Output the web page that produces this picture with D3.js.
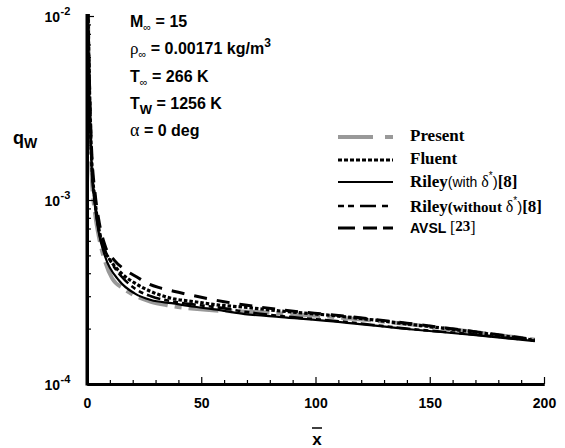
<!DOCTYPE html>
<html><head><meta charset="utf-8">
<script src="https://cdn.jsdelivr.net/npm/d3@7"></script>
<style>body{margin:0;background:#fff}svg{display:block}</style>
</head><body>
<svg id="c" width="565" height="448"></svg>
<script>
// ---- data ----
const presentX = [0.4, 1, 2, 3.5, 5, 6.4, 8, 11, 16, 21, 28, 35, 47, 58, 68, 85, 110, 140, 169, 196];
const presentY = [1.1e-2, 3.5e-3, 1.4e-3, 8.5e-4, 6.5e-4, 5.4e-4, 4.6e-4, 3.75e-4, 3.3e-4, 3.02e-4, 2.8e-4, 2.68e-4, 2.56e-4, 2.5e-4, 2.48e-4, 2.42e-4, 2.3e-4, 2.12e-4, 1.92e-4, 1.74e-4];
const fluentX = [0.4, 1, 2, 3.5, 5, 7, 10, 15, 21, 28, 37, 47, 57, 68, 85, 110, 140, 169, 196];
const fluentY = [1.1e-2, 4.5e-3, 1.7e-3, 1.0e-3, 7.2e-4, 5.6e-4, 4.75e-4, 4.0e-4, 3.53e-4, 3.18e-4, 2.92e-4, 2.8e-4, 2.69e-4, 2.62e-4, 2.49e-4, 2.34e-4, 2.12e-4, 1.92e-4, 1.73e-4];
const rileyWithX = [0.4, 1, 2, 3.5, 5, 8, 14, 21, 28, 37, 47, 58, 69, 85, 111, 140, 169, 196];
const rileyWithY = [1.1e-2, 4.0e-3, 1.55e-3, 9.2e-4, 6.8e-4, 4.9e-4, 3.65e-4, 3.1e-4, 2.86e-4, 2.75e-4, 2.63e-4, 2.52e-4, 2.4e-4, 2.31e-4, 2.17e-4, 1.99e-4, 1.85e-4, 1.71e-4];
const rileyWithoutX = [0.4, 1, 2, 3.5, 5, 8, 11, 15, 21, 28, 37, 47, 58, 69, 85, 111, 140, 169, 196];
const rileyWithoutY = [1.1e-2, 4.3e-3, 1.65e-3, 9.8e-4, 7.2e-4, 5.3e-4, 4.5e-4, 3.85e-4, 3.3e-4, 3.0e-4, 2.82e-4, 2.7e-4, 2.6e-4, 2.47e-4, 2.34e-4, 2.19e-4, 2.0e-4, 1.86e-4, 1.72e-4];
const avslX = [0.4, 1, 2, 3.5, 5, 8, 12, 17, 22, 27, 32, 40, 50, 60, 70, 85, 110, 140, 169, 196];
const avslY = [1.1e-2, 4.8e-3, 1.9e-3, 1.1e-3, 8.0e-4, 5.6e-4, 4.7e-4, 4.15e-4, 3.8e-4, 3.5e-4, 3.33e-4, 3.15e-4, 2.96e-4, 2.8e-4, 2.68e-4, 2.53e-4, 2.36e-4, 2.14e-4, 1.93e-4, 1.74e-4];

const xMajorTicks = [0, 50, 100, 150, 200];
const xMinorTicks = [10,20,30,40,60,70,80,90,110,120,130,140,160,170,180,190];
const yMajorTicks = [1e-4, 1e-3, 1e-2];
const yMajorLabels = ["-4", "-3", "-2"];
const yMinorTicks = [2e-4,3e-4,4e-4,5e-4,6e-4,7e-4,8e-4,9e-4,2e-3,3e-3,4e-3,5e-3,6e-3,7e-3,8e-3,9e-3];

// ---- chart ----
const svg = d3.select("#c");
const x = d3.scaleLinear().domain([0, 200]).range([87, 544]);
const y = d3.scaleLog().domain([1e-4, 1e-2]).range([384, 16]);

const defs = svg.append("defs");
defs.append("clipPath").attr("id","clip").append("rect")
  .attr("x", 87).attr("y", 14).attr("width", 460).attr("height", 370);

const series = [
  {name:"Present", xs:presentX, ys:presentY, color:"#999", w:4, dash:"30,7,7,7"},
  {name:"Fluent", xs:fluentX, ys:fluentY, color:"#000", w:3.2, dash:"3.5,2"},
  {name:"RileyWith", xs:rileyWithX, ys:rileyWithY, color:"#000", w:2.2, dash:null},
  {name:"RileyWithout", xs:rileyWithoutX, ys:rileyWithoutY, color:"#000", w:2.6, dash:"5,4,5,4,14,4"},
  {name:"AVSL", xs:avslX, ys:avslY, color:"#000", w:3, dash:"13,10"}
];

const line = d3.line().x(d => x(d[0])).y(d => y(d[1])).curve(d3.curveMonotoneX);
const g = svg.append("g").attr("clip-path","url(#clip)");
series.forEach(s => {
  const pts = s.xs.map((v,i) => [v, s.ys[i]]);
  g.append("path").datum(pts).attr("d", line)
    .attr("fill","none").attr("stroke", s.color).attr("stroke-width", s.w)
    .attr("stroke-dasharray", s.dash);
});

// axes
const xAxisMinor = d3.axisBottom(x).tickValues(xMinorTicks).tickSize(-4).tickSizeOuter(0).tickFormat("");
const xAxis = d3.axisBottom(x).tickValues(xMajorTicks).tickSize(-7).tickSizeOuter(0).tickPadding(14).tickFormat(d3.format("d"));
const yAxisMinor = d3.axisLeft(y).tickValues(yMinorTicks).tickSize(-4).tickSizeOuter(0).tickFormat("");
const yAxis = d3.axisLeft(y).tickValues(yMajorTicks).tickSize(-7).tickSizeOuter(0).tickFormat("");

function styleAxis(sel){
  sel.select(".domain").attr("stroke","#000").attr("stroke-width",3);
  sel.selectAll(".tick line").attr("stroke","#000").attr("stroke-width",1.2);
  sel.selectAll("text").attr("fill","#000").style("font-family","Liberation Sans, Arial, sans-serif")
     .style("font-size","14px").style("font-weight","bold");
}
svg.append("g").attr("transform","translate(0,384)").call(xAxisMinor).call(styleAxis);
svg.append("g").attr("transform","translate(0,384)").call(xAxis).call(styleAxis);
svg.append("g").attr("transform","translate(87,0)").call(yAxisMinor).call(styleAxis);
svg.append("g").attr("transform","translate(87,0)").call(yAxis).call(styleAxis);
svg.append("line").attr("x1",87).attr("x2",87).attr("y1",14).attr("y2",385.5).attr("stroke","#000").attr("stroke-width",3);

const sans = "Liberation Sans, Arial, sans-serif";
const serif = "Liberation Serif, Times New Roman, serif";

// y tick labels 10^n
yMajorTicks.forEach((v,i) => {
  svg.append("text").attr("x", 60).attr("y", y(v)+6).attr("text-anchor","end")
    .style("font-family",sans).style("font-weight","bold").style("font-size","14px").text("10");
  svg.append("text").attr("x", 60.5).attr("y", y(v)-1).style("font-family",sans)
    .style("font-weight","bold").style("font-size","11px").text(yMajorLabels[i]);
});

// axis titles
svg.append("text").attr("x", 317).attr("y", 445).attr("text-anchor","middle")
  .style("font-family",sans).style("font-weight","bold").style("font-size","17px").text("x");
svg.append("line").attr("x1",312).attr("x2",322).attr("y1",428).attr("y2",428).attr("stroke","#000").attr("stroke-width",1.5);

const qt = svg.append("text").attr("x", 13).attr("y", 144)
  .style("font-family",sans).style("font-weight","bold").style("font-size","18px");
qt.append("tspan").text("q");
qt.append("tspan").attr("dy",4).style("font-size","14px").text("W");

// annotations
const ann = svg.append("g").style("font-family",sans).style("font-weight","bold").style("font-size","16px").attr("fill","#000");
let a = ann.append("text").attr("x",130).attr("y",27);
a.append("tspan").text("M");
a.append("tspan").attr("dy",4).style("font-size","11px").style("font-weight","normal").text("∞");
a.append("tspan").attr("dy",-4).text(" = 15");

a = ann.append("text").attr("x",130).attr("y",54);
a.append("tspan").style("font-weight","normal").style("font-family",serif).style("font-size","17px").text("ρ");
a.append("tspan").attr("dy",4).style("font-size","11px").style("font-weight","normal").text("∞");
a.append("tspan").attr("dy",-4).text(" = 0.00171 kg/m");
a.append("tspan").attr("dy",-7).style("font-size","12px").text("3");

a = ann.append("text").attr("x",130).attr("y",82);
a.append("tspan").text("T");
a.append("tspan").attr("dy",4).style("font-size","11px").style("font-weight","normal").text("∞");
a.append("tspan").attr("dy",-4).text(" = 266 K");

a = ann.append("text").attr("x",130).attr("y",109);
a.append("tspan").text("T");
a.append("tspan").attr("dy",5).style("font-size","13px").text("W");
a.append("tspan").attr("dy",-5).text(" = 1256 K");

a = ann.append("text").attr("x",130).attr("y",136);
a.append("tspan").style("font-weight","normal").style("font-family",serif).style("font-size","18px").text("α");
a.append("tspan").text(" = 0 deg");

// legend
const leg = svg.append("g");
const legRows = [
  {s:series[0], y:137, dash:"35,12,8,20"},
  {s:series[1], y:160, dash:"4,2"},
  {s:series[2], y:182, dash:null},
  {s:series[3], y:206, dash:"6,4,6,6,16,6,6,20"},
  {s:series[4], y:228, dash:"17,8,14,6,11,20"}
];
legRows.forEach(r => {
  leg.append("line").attr("x1",338).attr("x2",393).attr("y1",r.y).attr("y2",r.y)
    .attr("stroke", r.s.color).attr("stroke-width", r.s.w).attr("stroke-dasharray", r.dash);
});
function serifB(t, x0, y0){ return leg.append("text").attr("x",x0).attr("y",y0).style("font-family",serif).style("font-weight","bold").style("font-size","17px").text(t); }
serifB("Present", 410, 141);
serifB("Fluent", 410, 164);
let t = leg.append("text").attr("x",410).attr("y",187).style("font-family",serif).style("font-weight","bold").style("font-size","17px");
t.append("tspan").text("Riley");
t.append("tspan").style("font-family",sans).style("font-weight","normal").style("font-size","14px").text("(with ");
t.append("tspan").style("font-family",serif).style("font-weight","normal").style("font-size","16px").text("δ");
t.append("tspan").attr("dy",-8).style("font-family",sans).style("font-weight","normal").style("font-size","10px").text("*");
t.append("tspan").attr("dy",8).style("font-family",sans).style("font-weight","normal").style("font-size","15px").text(")");
t.append("tspan").text("[8]");

t = leg.append("text").attr("x",410).attr("y",212).style("font-family",serif).style("font-weight","bold").style("font-size","17px");
t.append("tspan").text("Riley");
t.append("tspan").style("font-size","15px").text("(without ");
t.append("tspan").style("font-weight","normal").style("font-size","16px").text("δ");
t.append("tspan").attr("dy",-8).style("font-family",sans).style("font-weight","normal").style("font-size","10px").text("*");
t.append("tspan").attr("dy",8).style("font-family",sans).style("font-weight","normal").style("font-size","15px").text(")");
t.append("tspan").text("[8]");

t = leg.append("text").attr("x",410).attr("y",233).style("font-family",sans).style("font-weight","bold").style("font-size","14px");
t.append("tspan").text("AVSL ");
t.append("tspan").style("font-family",serif).style("font-weight","normal").style("font-size","16px").text("[");
t.append("tspan").attr("dy",-2).style("font-family",serif).style("font-size","15px").text("23");
t.append("tspan").attr("dy",2).style("font-family",serif).style("font-weight","normal").style("font-size","16px").text("]");
</script>
</body></html>
